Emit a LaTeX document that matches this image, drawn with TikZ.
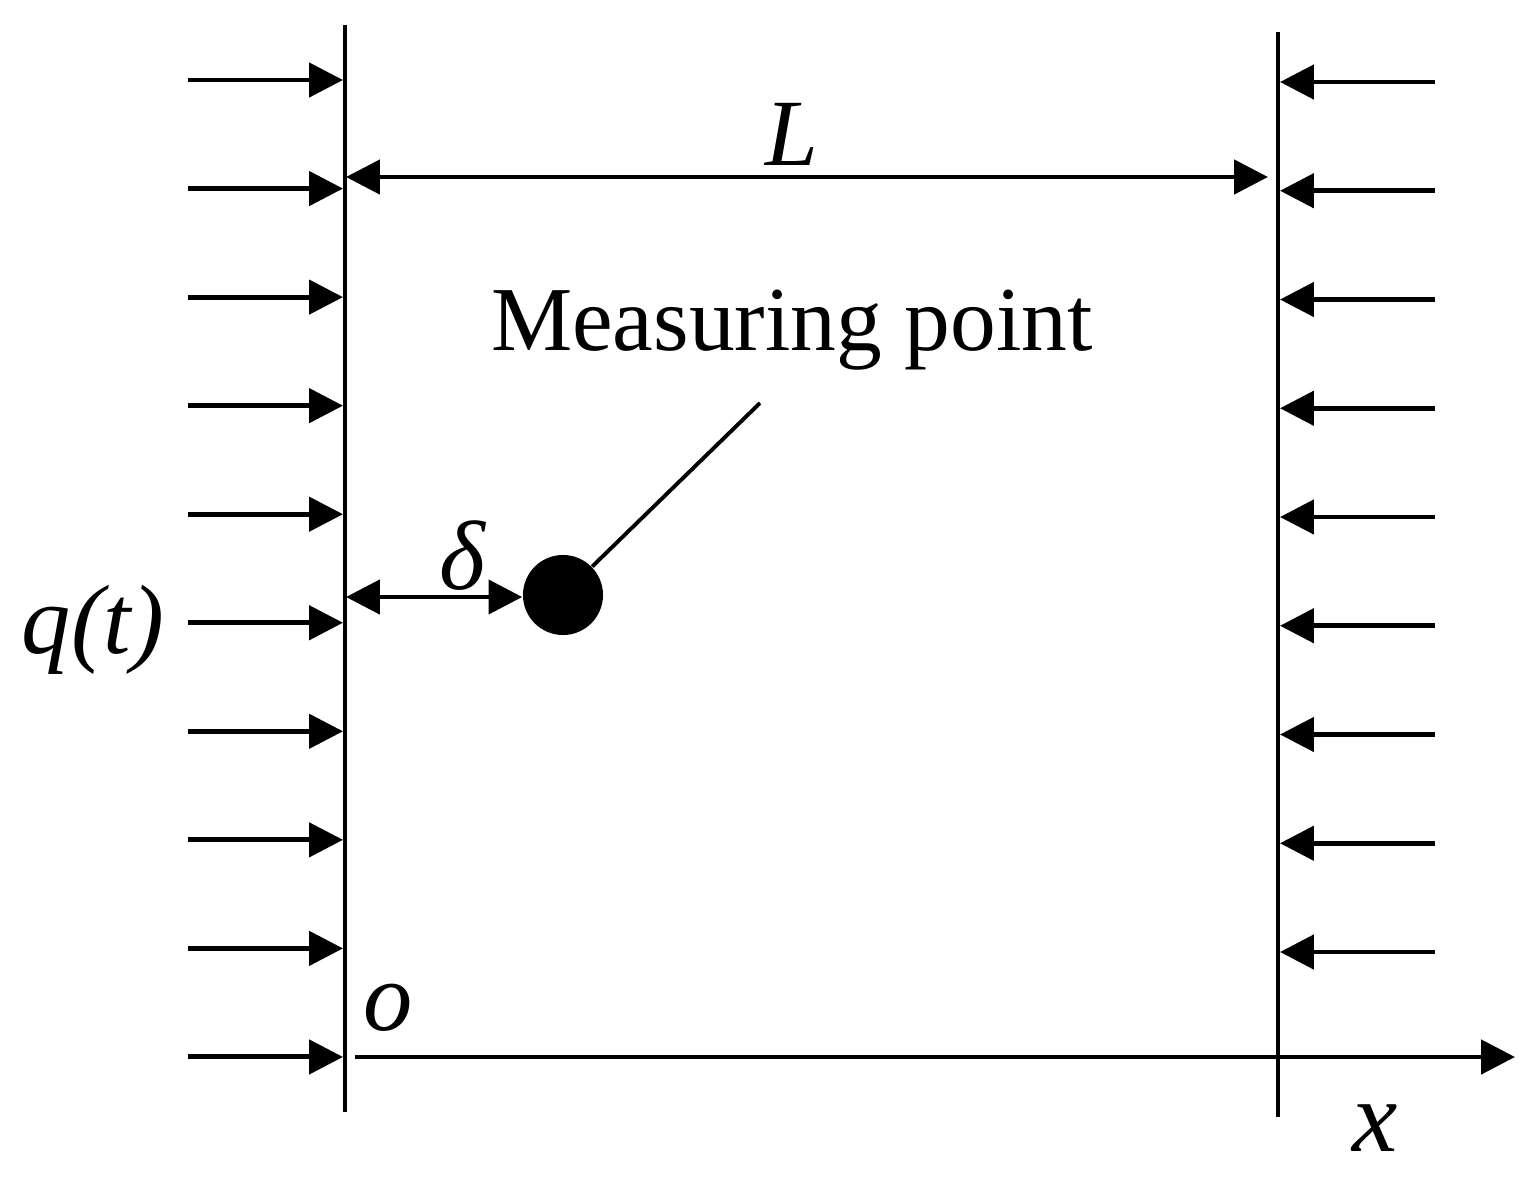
\documentclass[tikz,border=0pt]{standalone}
\usepackage{fontspec}
\setmainfont{Liberation Serif}
\usetikzlibrary{arrows.meta}
\begin{document}
\begin{tikzpicture}[x=0.01cm,y=-0.01cm,
  force/.style={line width=1.4pt,-{Triangle[length=9.6pt,width=9.6pt]}},
  wall/.style={line width=0.9pt},
  dimarrow/.style={line width=1.4pt,{Triangle[length=9.6pt,width=9.6pt]}-{Triangle[length=9.6pt,width=9.6pt]}},
  lab/.style={font=\fontsize{27}{30}\selectfont\itshape,inner sep=0pt},
]
\useasboundingbox (0,0) rectangle (1538,1178);
% walls
\coordinate (LT) at (345,25); \coordinate (LB) at (345,1112);
\coordinate (RT) at (1278,32); \coordinate (RB) at (1278,1117);
\draw[wall] (LT) -- (LB);
\draw[wall] (RT) -- (RB);
% left loads
\foreach \i in {0,...,9} {
  \coordinate (ls\i) at (188,{80+108.55*\i});
  \coordinate (le\i) at (343,{80+108.55*\i});
  \draw[force] (ls\i) -- (le\i);
}
% right loads
\foreach \i in {0,...,8} {
  \coordinate (rs\i) at (1435,{82+108.75*\i});
  \coordinate (re\i) at (1280,{82+108.75*\i});
  \draw[force] (rs\i) -- (re\i);
}
% dimension L
\coordinate (La) at (346,177); \coordinate (Lb) at (1268,177);
\draw[dimarrow] (La) -- (Lb);
\node[lab] (Llab) at (792,134) {L};
% measuring point
\node[font=\fontsize{26}{30}\selectfont, anchor=base, inner sep=0pt] (mp) at (792,350) {Measuring point};
\node[circle, fill=black, inner sep=0pt, minimum size=0.8cm] (dot) at (563,595) {};
\coordinate (lead) at (760,403);
\draw[line width=1.1pt] (lead) -- (dot);
% delta
\coordinate (da) at (346,597);
\draw[dimarrow] (da) -- (dot.west |- da);
\node[lab,font=\fontsize{28}{30}\selectfont\itshape] (delta) at (462,556) {δ};
% labels
\node[lab,font=\fontsize{28}{30}\selectfont\itshape] (q) at (93,630) {q(t)};
\node[lab,font=\fontsize{28}{30}\selectfont\itshape] (o) at (388,1008) {o};
% x axis
\coordinate (ax0) at (355,1057); \coordinate (ax1) at (1515,1057);
\draw[force] (ax0) -- (ax1);
\node[lab,font=\fontsize{29}{30}\selectfont\itshape] (xlab) at (1375,1128) {x};
\end{tikzpicture}
\end{document}
